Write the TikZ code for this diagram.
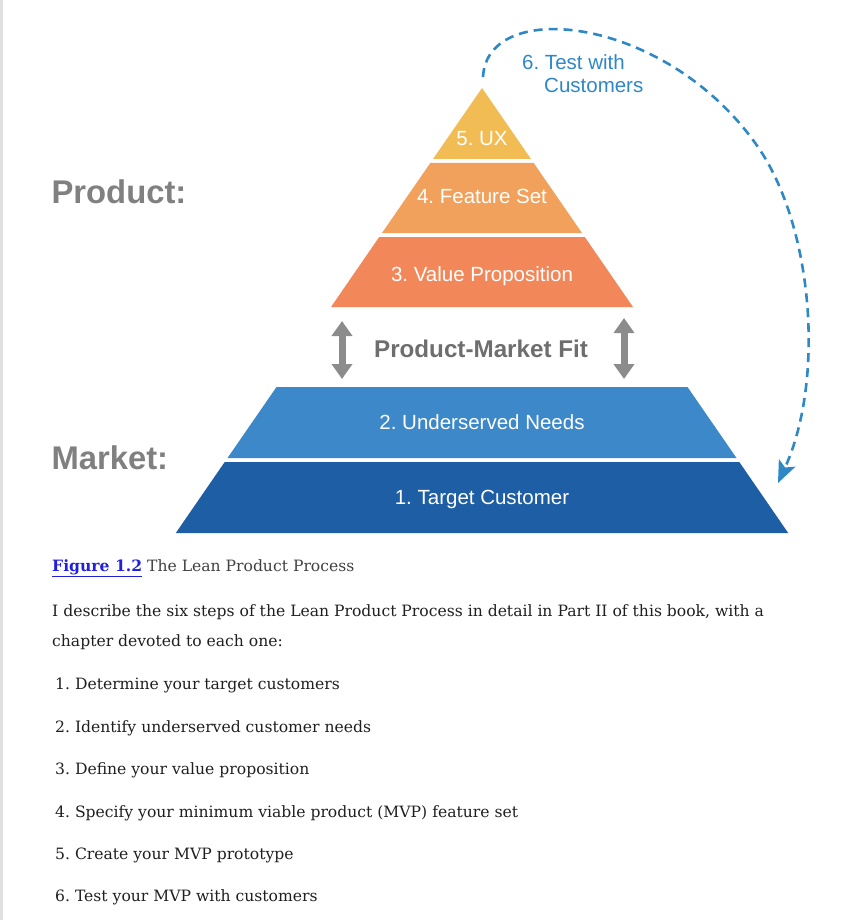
\documentclass[tikz,border=0pt]{standalone}
\usepackage{xcolor}
\usepackage{fontspec}
\usepackage{tikz}
\usetikzlibrary{arrows.meta}
\setmainfont{DejaVu Serif}
\newfontfamily\helv{Liberation Sans}
\frenchspacing
\definecolor{ffbc55}{HTML}{F2BC55}
\definecolor{ffa35e}{HTML}{F1A15C}
\definecolor{ff8a5a}{HTML}{F2875A}
\definecolor{3d89c9}{HTML}{3C88C8}
\definecolor{1e5fa5}{HTML}{1D5EA4}
\definecolor{2f88c6}{HTML}{2F88C6}
\definecolor{qqqqdd}{HTML}{2020DD}
\definecolor{grayarr}{HTML}{8C8C8C}
\tikzset{
  lbl/.style={anchor=base,text=white,font=\helv\fontsize{20.5}{24}\selectfont},
  side/.style={anchor=base west,text=black!50,font=\helv\bfseries\fontsize{32.8}{36}\selectfont},
  bodytxt/.style={anchor=base west,text=black!88,font=\fontsize{15.6}{20}\selectfont,inner sep=0pt},
  looptxt/.style={anchor=base west,text=2f88c6,font=\helv\fontsize{20.5}{22.5}\selectfont,inner sep=0pt},
  fitarrow/.style={line width=7pt,color=grayarr,{Triangle[width=20pt,length=15pt]}-{Triangle[width=20pt,length=15pt]}}
}
\begin{document}
\begin{tikzpicture}[line cap=butt,line join=miter,x=1pt,y=-1pt]
            \useasboundingbox (0,0) rectangle (861,920);
            \fill[black!12] (0,0) rectangle (2.5,920);
            % product pyramid
            \fill[ffbc55] (482,88) -- (531,159) -- (433,159) -- cycle;
            \fill[ffa35e] (430.3,163) -- (533.7,163) -- (582,233) -- (382,233) -- cycle;
            \fill[ff8a5a] (379.2,237) -- (584.8,237) -- (633,307) -- (331,307) -- cycle;
            % market pyramid
            \fill[3d89c9] (276.5,387) -- (687.5,387) -- (736.5,458) -- (227.5,458) -- cycle;
            \fill[1e5fa5] (224.7,462) -- (739.3,462) -- (788.2,533) -- (175.8,533) -- cycle;
            \node[lbl] (ux) at (482,146) {5. UX};
            \node[lbl] (feat) at (482,204) {4. Feature Set};
            \node[lbl] (value) at (482,281) {3. Value Proposition};
            \node[lbl] (needs) at (482,429) {2. Underserved Needs};
            \node[lbl] (target) at (482,504) {1. Target Customer};
            \node[side] (product) at (48,204) {Product:};
            \node[side] (market) at (48,469) {Market:};
            \node[anchor=base,text=black!57,font=\helv\bfseries\fontsize{24.2}{28}\selectfont] (pmf) at (481,357) {Product-Market Fit};
            \coordinate (la) at (342,321);
            \coordinate (lb) at (342,379);
            \coordinate (ra) at (624,318);
            \coordinate (rb) at (624,379);
            \draw [fitarrow] (la) -- (lb);
            \draw [fitarrow] (ra) -- (rb);
            % test loop
            \coordinate (loopstart) at (483,77);
            \coordinate (loopmid) at (760,150);
            \coordinate (loopend) at (778,483);
            \draw [-{Stealth[length=22pt,width=18pt,inset=5pt]},line width=2.6pt,color=2f88c6,dash pattern=on 9pt off 6pt] (loopstart) .. controls (487,-4) and (670,16) .. (loopmid) .. controls (813,230) and (825,380) .. (loopend);
            \node[looptxt] (test) at (522,70) {6. Test with};
            \node[looptxt] (test2) at (544,93) {Customers};
            % text below
            \node[bodytxt] (caption) at (52,571) {\textcolor{qqqqdd}{\underline{\textbf{Figure 1.2}}} \textcolor{black!75}{The Lean Product Process}};
            \node[bodytxt] (para1) at (52,616) {I describe the six steps of the Lean Product Process in detail in Part II of this book, with a};
            \node[bodytxt] (para2) at (52,646) {chapter devoted to each one:};
            \node[bodytxt] (s1) at (55,689) {1. Determine your target customers};
            \node[bodytxt] (s2) at (55,732) {2. Identify underserved customer needs};
            \node[bodytxt] (s3) at (55,774) {3. Define your value proposition};
            \node[bodytxt] (s4) at (55,817) {4. Specify your minimum viable product (MVP) feature set};
            \node[bodytxt] (s5) at (55,859) {5. Create your MVP prototype};
            \node[bodytxt] (s6) at (55,901) {6. Test your MVP with customers};
\end{tikzpicture}
\end{document}
